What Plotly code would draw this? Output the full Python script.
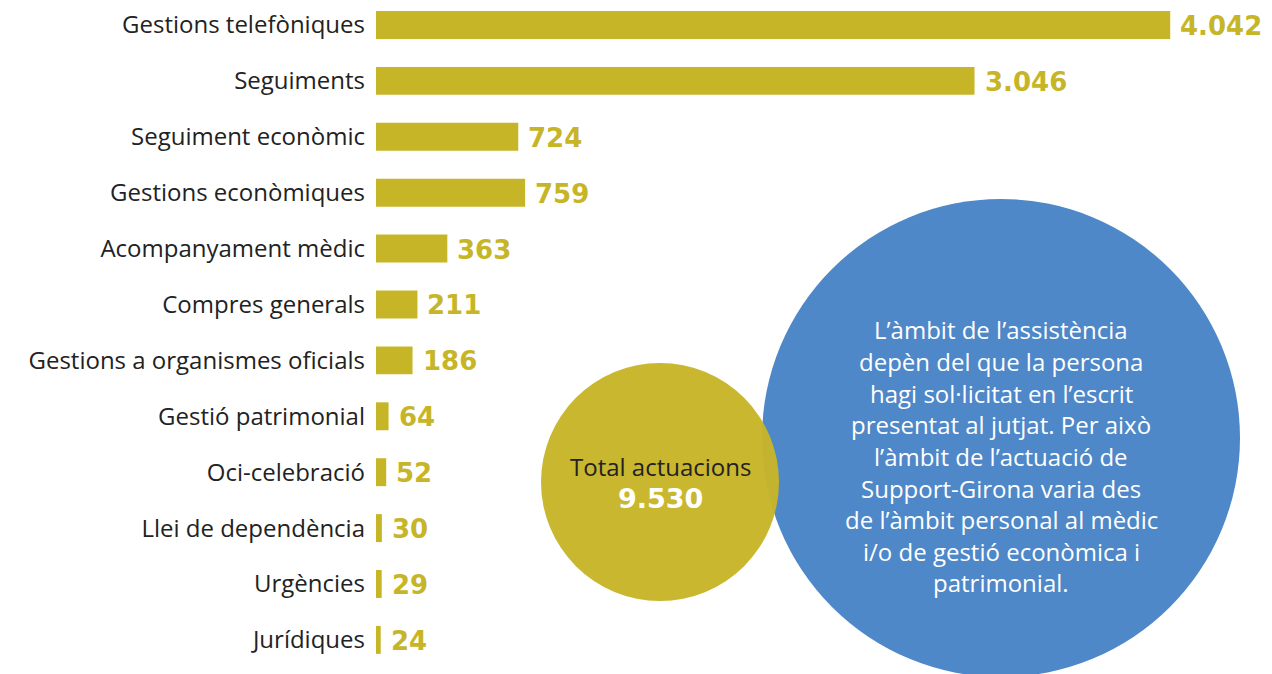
import plotly.graph_objects as go

# dades
categories = [
    "Gestions telefòniques", "Seguiments", "Seguiment econòmic",
    "Gestions econòmiques", "Acompanyament mèdic", "Compres generals",
    "Gestions a organismes oficials", "Gestió patrimonial", "Oci-celebració",
    "Llei de dependència", "Urgències", "Jurídiques",
]
values = [4042, 3046, 724, 759, 363, 211, 186, 64, 52, 30, 29, 24]
total_label = "Total actuacions"
note_lines = [
    "L’àmbit de l’assistència",
    "depèn del que la persona",
    "hagi sol·licitat en l’escrit",
    "presentat al jutjat. Per això",
    "l’àmbit de l’actuació de",
    "Support-Girona varia des",
    "de l’àmbit personal al mèdic",
    "i/o de gestió econòmica i",
    "patrimonial.",
]

GOLD = "#C7B528"
BLUE = "#4E88C8"
FONT = "Open Sans"
BOLD = "DejaVu Sans"

W, H = 1272, 674
ML = 376


def fmt(v):
    return f"{v:,}".replace(",", ".")


def px_x(x):
    return (x - ML) / (W - ML)


def px_y(y):
    return 1 - y / H


fig = go.Figure(go.Bar(
    x=values, y=categories, orientation="h",
    marker=dict(color=GOLD, line=dict(width=0)),
    width=0.5, hoverinfo="skip",
))

# etiquetes de valor
for c, v in zip(categories, values):
    fig.add_annotation(x=v, y=c, text=f"<b>{fmt(v)}</b>", showarrow=False,
                       xanchor="left", yanchor="middle", xshift=8, yshift=-1,
                       font=dict(family=BOLD, size=26, color=GOLD))

# cercles
fig.add_shape(type="circle", xref="paper", yref="paper", layer="above",
              x0=px_x(762), x1=px_x(1240), y0=px_y(199), y1=px_y(677),
              fillcolor=BLUE, line=dict(width=0))
fig.add_shape(type="circle", xref="paper", yref="paper", layer="above",
              x0=px_x(541), x1=px_x(779), y0=px_y(363), y1=px_y(601),
              fillcolor=GOLD, line=dict(width=0), opacity=0.97)

fig.add_annotation(xref="paper", yref="paper", x=px_x(660), y=px_y(466),
                   text=total_label, showarrow=False,
                   xanchor="center", yanchor="middle",
                   font=dict(family=FONT, size=24, color="#222222"))
fig.add_annotation(xref="paper", yref="paper", x=px_x(660), y=px_y(498),
                   text=f"<b>{fmt(sum(values))}</b>", showarrow=False,
                   xanchor="center", yanchor="middle",
                   font=dict(family=BOLD, size=27, color="white"))
for i, line in enumerate(note_lines):
    fig.add_annotation(xref="paper", yref="paper", x=px_x(1001),
                       y=px_y(330 + i * 31.6), text=line, showarrow=False,
                       xanchor="center", yanchor="middle",
                       font=dict(family=FONT, size=24, color="white"))

fig.update_layout(
    width=W, height=H,
    margin=dict(l=ML, r=0, t=0, b=0),
    paper_bgcolor="white", plot_bgcolor="white",
    showlegend=False,
    xaxis=dict(range=[0, 4560], visible=False, fixedrange=True),
    yaxis=dict(categoryorder="array", categoryarray=categories,
               range=[11.61, -0.447], showgrid=False, zeroline=False,
               showline=False, ticks="", ticklabelstandoff=10,
               tickfont=dict(family=FONT, size=24, color="#222222")),
)

fig.write_html("out.html", config={"displayModeBar": False},
               post_script="document.body.style.margin='0';")
